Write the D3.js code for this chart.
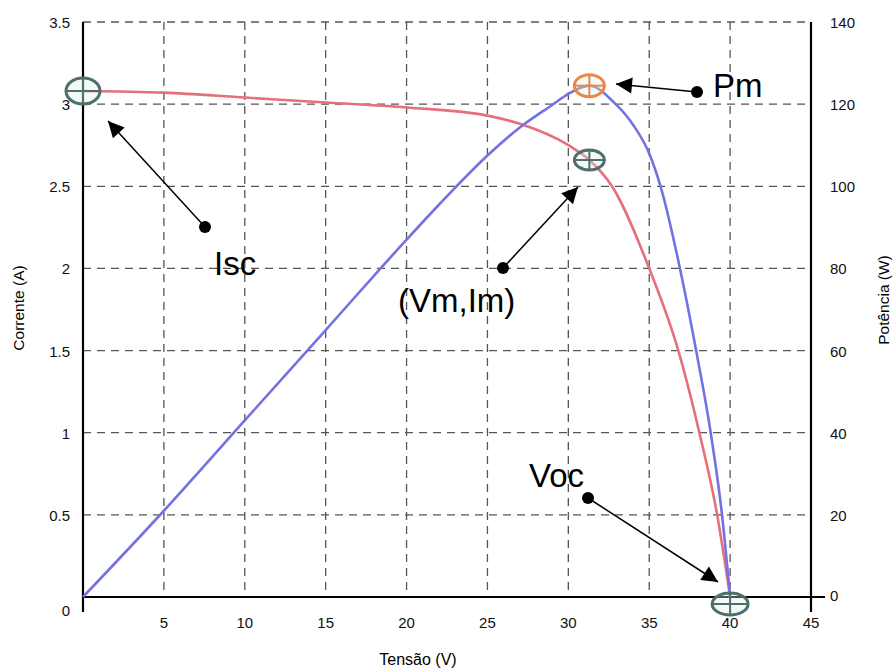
<!DOCTYPE html>
<html>
<head>
<meta charset="utf-8">
<script src="https://cdn.jsdelivr.net/npm/d3@7"></script>
<style>
  body { margin: 0; background: #fff; }
  svg { display: block; font-family: "Liberation Sans", Arial, sans-serif; }
</style>
</head>
<body>
<div id="chart"></div>
<script>
// curva I-V (corrente em A)
const ivVolt = [0, 5, 10, 15, 20, 25, 27, 30, 31.3, 32.7, 35.0, 36.8, 38.1, 39.2, 40];
const ivAmp = [3.08, 3.07, 3.04, 3.01, 2.98, 2.93, 2.88, 2.75, 2.66, 2.5, 2.0, 1.5, 1.0, 0.5, 0];
// curva P-V (potencia em W)
const pvVolt = [0, 5, 10, 15, 20, 22, 25, 27, 29, 30, 31.3, 32.8, 34, 35, 35.7, 36.9, 37.9, 38.8, 39.5, 40];
const pvWatt = [0, 21, 43, 65, 87, 95.5, 107.5, 114.3, 119.8, 122.5, 124.5, 120.5, 115, 108, 100, 80, 60, 40, 20, 0];

const xTicks = [5, 10, 15, 20, 25, 30, 35, 40, 45];
const yLeftTicks = [0, 0.5, 1, 1.5, 2, 2.5, 3, 3.5];
const yRightTicks = [0, 20, 40, 60, 80, 100, 120, 140];

// pontos notaveis
const marks = [
  { name: "Isc", v: 0, y: 3.08, axis: "left", color: "#4d706b", rx: 17, ry: 13, dy: 0 },
  { name: "Pm", v: 31.3, y: 124.5, axis: "right", color: "#ef8648", rx: 15, ry: 11, dy: 0 },
  { name: "VmIm", v: 31.3, y: 2.66, axis: "left", color: "#4d706b", rx: 15, ry: 10, dy: 0 },
  { name: "Voc", v: 40, y: 0, axis: "left", color: "#4d706b", rx: 18, ry: 11, dy: 7 }
];

const notes = [
  { label: "Isc", from: [205, 227], to: [108, 121], tx: 214, ty: 275 },
  { label: "Pm", from: [697, 92], to: [616, 84], tx: 713, ty: 97 },
  { label: "(Vm,Im)", from: [503, 268], to: [578, 187], tx: 398, ty: 312 },
  { label: "Voc", from: [588, 498], to: [718, 582], tx: 529, ty: 487 }
];

const width = 894, height = 668;
const margin = { top: 22, right: 83, bottom: 71, left: 83 };

const svg = d3.select("#chart").append("svg")
  .attr("width", width)
  .attr("height", height);

const x = d3.scaleLinear().domain([0, 45]).range([margin.left, width - margin.right]);
const yL = d3.scaleLinear().domain([0, 3.5]).range([height - margin.bottom, margin.top]);
const yR = d3.scaleLinear().domain([0, 140]).range([height - margin.bottom, margin.top]);

//GRID
const grid = svg.append("g")
  .attr("stroke", "#555")
  .attr("stroke-width", 1.3)
  .attr("stroke-dasharray", "8,6");

grid.selectAll(".gx")
  .data(xTicks.filter(d => d < 45))
  .enter().append("line")
  .attr("x1", d => x(d)).attr("x2", d => x(d))
  .attr("y1", yL(3.5)).attr("y2", yL(0));

grid.selectAll(".gy")
  .data(yLeftTicks.filter(d => d > 0))
  .enter().append("line")
  .attr("x1", x(0)).attr("x2", x(45))
  .attr("y1", d => yL(d)).attr("y2", d => yL(d));

//AXES
const axes = svg.append("g").attr("stroke", "#000").attr("stroke-width", 2.2);
axes.append("line").attr("x1", x(0)).attr("x2", x(0)).attr("y1", yL(3.5)).attr("y2", yL(0) + 15);
axes.append("line").attr("x1", x(45)).attr("x2", x(45)).attr("y1", yL(3.5)).attr("y2", yL(0) + 15);
axes.append("line").attr("x1", x(0)).attr("x2", x(45) + 14).attr("y1", yL(0)).attr("y2", yL(0));

//TICK LABELS
const labels = svg.append("g").attr("font-size", 15).attr("fill", "#111");

labels.selectAll(".xl")
  .data(xTicks)
  .enter().append("text")
  .attr("x", d => x(d))
  .attr("y", yL(0) + 31)
  .attr("text-anchor", "middle")
  .text(d => d);

labels.selectAll(".yl")
  .data(yLeftTicks)
  .enter().append("text")
  .attr("x", x(0) - 13)
  .attr("y", d => yL(d) + (d === 0 ? 19 : 6))
  .attr("text-anchor", "end")
  .text(d => d);

labels.selectAll(".yr")
  .data(yRightTicks)
  .enter().append("text")
  .attr("x", x(45) + 19)
  .attr("y", d => yR(d) + (d === 0 ? 4 : 6))
  .text(d => d);

//AXIS TITLES
svg.append("text")
  .attr("x", 418).attr("y", 665)
  .attr("text-anchor", "middle")
  .attr("font-size", 16)
  .text("Tensão (V)");

svg.append("text")
  .attr("transform", "translate(24,308) rotate(-90)")
  .attr("text-anchor", "middle")
  .attr("font-size", 15.5)
  .text("Corrente (A)");

svg.append("text")
  .attr("transform", "translate(889,300) rotate(-90)")
  .attr("text-anchor", "middle")
  .attr("font-size", 15.5)
  .text("Potência (W)");

//CURVES
const ivLine = d3.line()
  .x((d, i) => x(ivVolt[i]))
  .y(d => yL(d))
  .curve(d3.curveMonotoneX);

const pvLine = d3.line()
  .x((d, i) => x(pvVolt[i]))
  .y(d => yR(d))
  .curve(d3.curveMonotoneX);

svg.append("path")
  .datum(ivAmp)
  .attr("d", ivLine)
  .attr("fill", "none")
  .attr("stroke", "#e5707c")
  .attr("stroke-width", 2.6);

svg.append("path")
  .datum(pvWatt)
  .attr("d", pvLine)
  .attr("fill", "none")
  .attr("stroke", "#7272e2")
  .attr("stroke-width", 2.6);

//MARKERS
const mk = svg.selectAll(".mk")
  .data(marks)
  .enter().append("g")
  .attr("transform", d => {
    const cy = (d.axis === "left" ? yL(d.y) : yR(d.y)) + d.dy;
    return `translate(${x(d.v)},${cy})`;
  });

mk.append("ellipse")
  .attr("rx", d => d.rx).attr("ry", d => d.ry)
  .attr("fill", "rgba(220,240,235,0.35)")
  .attr("stroke", d => d.color)
  .attr("stroke-width", 3);

mk.append("line")
  .attr("x1", d => -d.rx).attr("x2", d => d.rx)
  .attr("stroke", d => d.color).attr("stroke-width", 2);

mk.append("line")
  .attr("y1", d => -d.ry).attr("y2", d => d.ry)
  .attr("stroke", d => d.color).attr("stroke-width", 2);

//ANNOTATIONS
const ann = svg.selectAll(".ann")
  .data(notes)
  .enter().append("g");

ann.append("line")
  .attr("x1", d => d.from[0]).attr("y1", d => d.from[1])
  .attr("x2", d => d.to[0]).attr("y2", d => d.to[1])
  .attr("stroke", "#000")
  .attr("stroke-width", 1.5);

// arrowhead drawn as a triangle at the tip
ann.append("path")
  .attr("d", d => {
    const dx = d.to[0] - d.from[0], dy = d.to[1] - d.from[1];
    const len = Math.hypot(dx, dy), ux = dx / len, uy = dy / len;
    const L = 16, W = 8;
    const bx = d.to[0] - ux * L, by = d.to[1] - uy * L;
    return `M${d.to[0]},${d.to[1]} L${bx - uy * W},${by + ux * W} L${bx + uy * W},${by - ux * W} Z`;
  })
  .attr("fill", "#000");

ann.append("circle")
  .attr("cx", d => d.from[0]).attr("cy", d => d.from[1])
  .attr("r", 6)
  .attr("fill", "#000");

ann.append("text")
  .attr("x", d => d.tx).attr("y", d => d.ty)
  .attr("font-size", 33)
  .attr("fill", "#000")
  .text(d => d.label);
</script>
</body>
</html>
